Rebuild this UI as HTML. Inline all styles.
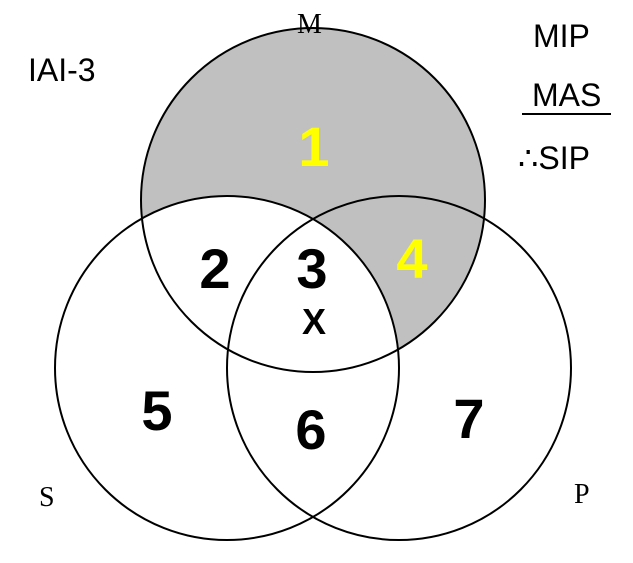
<!DOCTYPE html>
<html><head><style>body{margin:0;background:#fff}svg{display:block}</style></head><body>
<svg width="633" height="563" xmlns="http://www.w3.org/2000/svg">
<rect width="633" height="563" fill="#fff"/>
<circle cx="313" cy="200" r="172" fill="#c0c0c0"/>
<circle cx="227" cy="368" r="172" fill="#fff"/>
<g fill="none" stroke="#000" stroke-width="2">
<circle cx="313" cy="200" r="172"/>
<circle cx="227" cy="368" r="172"/>
<circle cx="399" cy="368" r="172"/>
</g>
<g font-family="Liberation Sans, sans-serif" font-weight="bold" font-size="56" text-anchor="middle">
<text x="314" y="166" fill="#ffff00">1</text>
<text x="215" y="288" fill="#000">2</text>
<text x="312" y="288" fill="#000">3</text>
<text x="412" y="278" fill="#ffff00">4</text>
<text x="157" y="430" fill="#000">5</text>
<text x="311" y="449" fill="#000">6</text>
<text x="469" y="438" fill="#000">7</text>
<text x="314" y="334" font-size="36" fill="#000">X</text>
</g>
<g font-family="Liberation Serif, serif" font-size="28" fill="#000">
<text x="297" y="33">M</text>
<text x="39" y="506">S</text>
<text x="574" y="503">P</text>
</g>
<g font-family="Liberation Sans, sans-serif" font-size="32" fill="#000">
<text x="28" y="81">IAI-3</text>
<text x="533" y="47">MIP</text>
<text x="532" y="106">MAS</text>
<text x="518" y="169">∴SIP</text>
</g>
<line x1="522" y1="114" x2="611" y2="114" stroke="#000" stroke-width="2"/>
</svg>
</body></html>
